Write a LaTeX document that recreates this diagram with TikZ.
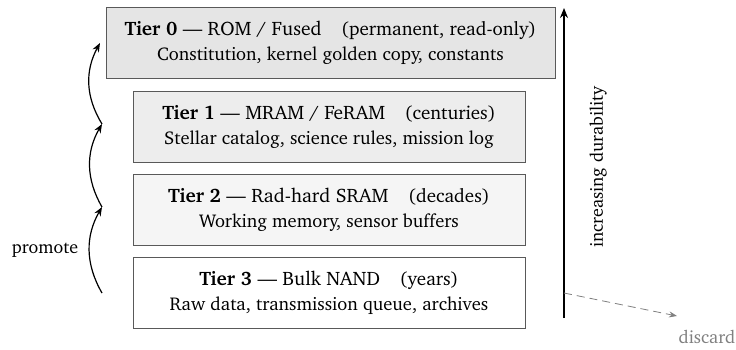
\documentclass[tikz,border=0pt]{standalone}
\usepackage[T1]{fontenc}
\usepackage{charter}
\usetikzlibrary{arrows.meta}
\newcommand{\tierpar}[1]{{\fontsize{19}{25}\selectfont #1}}
\newcommand{\tiersub}[1]{{\fontsize{18.5}{25}\selectfont #1}}
\tikzset{
  tierbox/.style={draw=black!65, line width=0.8pt, minimum height=71pt, align=center, inner sep=0pt,
    font=\fontsize{19.5}{25}\selectfont},
  promo/.style={-{Stealth[length=9pt,width=7pt]}, line width=1.2pt, bend left=30},
  lbl/.style={font=\fontsize{18}{20}\selectfont},
}
\begin{document}
\begin{tikzpicture}[x=1pt,y=-1pt]
\useasboundingbox (0,0) rectangle (736,349);
\node[tierbox, fill=black!10, minimum width=449pt] (t0) at (330.5,42.5)
  {\textbf{Tier 0} --- ROM / Fused\quad\tierpar{(permanent, read-only)}\\ \tiersub{Constitution, kernel golden copy, constants}};
\node[tierbox, fill=black!7, minimum width=392pt] (t1) at (329,126.5)
  {\textbf{Tier 1} --- MRAM / FeRAM\quad\tierpar{(centuries)}\\ \tiersub{Stellar catalog, science rules, mission log}};
\node[tierbox, fill=black!4, minimum width=392pt] (t2) at (329,209.5)
  {\textbf{Tier 2} --- Rad-hard SRAM\quad\tierpar{(decades)}\\ \tiersub{Working memory, sensor buffers}};
\node[tierbox, fill=white, minimum width=392pt] (t3) at (329,292.5)
  {\textbf{Tier 3} --- Bulk NAND\quad\tierpar{(years)}\\ \tiersub{Raw data, transmission queue, archives}};

\coordinate (p0) at (102,293);
\coordinate (p1) at (102,207);
\coordinate (p2) at (102,124);
\coordinate (p3) at (100,43);
\draw[promo] (p0) to (p1);
\draw[promo] (p1) to (p2);
\draw[promo] (p2) to (p3);
\node[lbl] (promote) at (45,250) {promote};

\coordinate (dbot) at (564,318);
\coordinate (dtop) at (564,8);
\draw[-{Stealth[length=10pt,width=8pt]}, line width=1.2pt] (dbot) -- (dtop);
\node[rotate=90, lbl] (dur) at (598,167) {increasing durability};

\coordinate (ds) at (564,293);
\coordinate (de) at (677,316);
\node[text=black!50, lbl] (discard) at (707,337) {discard};
\draw[black!50, dash pattern=on 8pt off 5pt, line width=0.8pt, -{Stealth[length=8pt,width=6pt]}] (ds) -- (de);
\end{tikzpicture}
\end{document}
